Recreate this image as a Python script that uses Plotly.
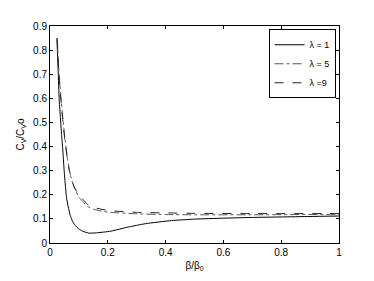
import plotly.graph_objects as go

# beta/beta0 samples and Cv/Cv0
x_l1 = [0.024, 0.028, 0.032, 0.036, 0.04, 0.044, 0.049, 0.053, 0.057, 0.063, 0.07,
        0.078, 0.086, 0.1, 0.113, 0.134, 0.16, 0.21, 0.27, 0.33, 0.42, 0.5, 0.6,
        0.7, 0.8, 0.9, 1.0]
y_l1 = [0.85, 0.72, 0.59, 0.52, 0.45, 0.39, 0.30, 0.24, 0.19, 0.15, 0.115,
        0.09, 0.075, 0.058, 0.049, 0.041, 0.042, 0.049, 0.066, 0.080, 0.093, 0.099, 0.103,
        0.106, 0.108, 0.110, 0.112]

x_l5 = [0.025, 0.03, 0.034, 0.038, 0.045, 0.052, 0.06, 0.067, 0.075, 0.084, 0.1,
        0.113, 0.13, 0.153, 0.2, 0.3, 0.4, 0.5, 0.7, 1.0]
y_l5 = [0.85, 0.73, 0.66, 0.60, 0.51, 0.43, 0.355, 0.30, 0.262, 0.228, 0.19,
        0.172, 0.152, 0.139, 0.128, 0.121, 0.118, 0.117, 0.117, 0.119]

x_l9 = [0.025, 0.03, 0.034, 0.038, 0.045, 0.052, 0.06, 0.067, 0.075, 0.084, 0.1,
        0.113, 0.13, 0.153, 0.2, 0.3, 0.4, 0.5, 0.7, 1.0]
y_l9 = [0.84, 0.72, 0.65, 0.59, 0.50, 0.42, 0.35, 0.30, 0.265, 0.233, 0.197,
        0.182, 0.16, 0.147, 0.135, 0.127, 0.125, 0.123, 0.122, 0.122]

x_ticks = [0, 0.2, 0.4, 0.6, 0.8, 1]
y_ticks = [0, 0.1, 0.2, 0.3, 0.4, 0.5, 0.6, 0.7, 0.8, 0.9]

fig = go.Figure()
fig.add_trace(go.Scatter(x=x_l1, y=y_l1, mode='lines', name='λ = 1',
                         line=dict(color='black', width=1, shape='spline', smoothing=0.5)))
fig.add_trace(go.Scatter(x=x_l5, y=y_l5, mode='lines', name='λ = 5',
                         line=dict(color='#555555', width=1, dash='dashdot', shape='spline', smoothing=0.5)))
fig.add_trace(go.Scatter(x=x_l9, y=y_l9, mode='lines', name='λ =9',
                         line=dict(color='#222222', width=1, dash='dash', shape='spline', smoothing=0.5)))

axis_style = dict(showgrid=False, zeroline=False, showline=True, linecolor='black',
                  linewidth=1, mirror='ticks', ticks='inside', ticklen=3,
                  tickcolor='black', tickfont=dict(size=10, color='black'))

fig.update_xaxes(range=[0, 1], tickvals=x_ticks, ticktext=['0', '0.2', '0.4', '0.6', '0.8', '1'],
                 title=dict(text='β/β<sub>0</sub>', font=dict(size=10, color='black'), standoff=4),
                 **axis_style)
fig.update_yaxes(range=[0, 0.9], tickvals=y_ticks,
                 ticktext=['0', '0.1', '0.2', '0.3', '0.4', '0.5', '0.6', '0.7', '0.8', '0.9'],
                 title=dict(text='C<sub>V</sub>/C<sub>V</sub>o', font=dict(size=10, color='black'), standoff=6),
                 **axis_style)

# page body adds an 8px offset, so the figure is 8px smaller than the window
fig.update_layout(
    width=366, height=273,
    margin=dict(l=41, r=35, t=13, b=32),
    paper_bgcolor='white', plot_bgcolor='white',
    font=dict(family='Liberation Sans, Arial, sans-serif', size=10, color='black'),
    legend=dict(x=0.988, y=0.985, xanchor='right', yanchor='top',
                bordercolor='black', borderwidth=1, bgcolor='white',
                font=dict(size=9), itemwidth=30, tracegroupgap=0),
)

fig.write_html("out.html")
